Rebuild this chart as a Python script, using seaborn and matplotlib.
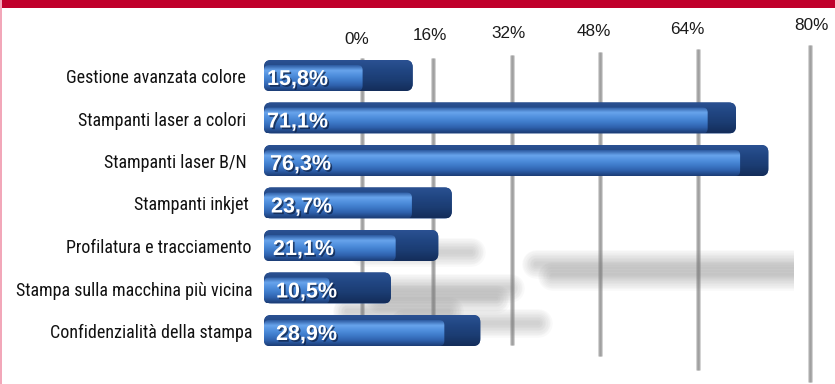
import numpy as np
import matplotlib
matplotlib.use("Agg")
import matplotlib.pyplot as plt
import matplotlib.patheffects as pe
from matplotlib import font_manager as fm
from matplotlib.patches import FancyBboxPatch, Rectangle
from matplotlib.colors import LinearSegmentedColormap
import seaborn as sns
import pandas as pd

# ---- data -------------------------------------------------------------
categories = [
    "Gestione avanzata colore",
    "Stampanti laser a colori",
    "Stampanti laser B/N",
    "Stampanti inkjet",
    "Profilatura e tracciamento",
    "Stampa sulla macchina più vicina",
    "Confidenzialità della stampa",
]
values = [15.8, 71.1, 76.3, 23.7, 21.1, 10.5, 28.9]
value_labels = ["15,8%", "71,1%", "76,3%", "23,7%", "21,1%", "10,5%", "28,9%"]
grid_ticks = [0, 16, 32, 48, 64, 80]
grid_tick_labels = ["0%", "16%", "32%", "48%", "64%", "80%"]

df = pd.DataFrame({"categoria": categories, "valore": values})

# ---- layout (pixels) --------------------------------------------------
W, H = 835, 384
BAR_X0, PX_PER_PCT, XMAX = 264, 6.24, 85
ROW0_Y, ROW_STEP = 78, 42.5

sns.set_theme(style="white")
plt.rcParams["font.family"] = ["Liberation Sans", "DejaVu Sans"]

fig = plt.figure(figsize=(W / 100, H / 100), dpi=100)
fig.patch.set_facecolor("white")
renderer = fig.canvas.get_renderer()


def pick_narrow_font():
    """Prefer a condensed sans for the category names."""
    for family, stretch in [("Liberation Sans Narrow", "normal"),
                            ("Roboto Condensed", "normal"),
                            ("DejaVu Sans", "condensed")]:
        try:
            path = fm.findfont(fm.FontProperties(family=family, stretch=stretch),
                               fallback_to_default=False)
        except ValueError:
            continue
        name = path.lower()
        if "narrow" in name or "condensed" in name:
            return family, stretch
    return "Liberation Sans", "normal"


def fit_size(text, family, stretch, target_px, base=13.5, weight="normal"):
    t = fig.text(0, 0, text, fontsize=base, family=family, stretch=stretch,
                 fontweight=weight)
    w = t.get_window_extent(renderer=renderer).width
    t.remove()
    return min(base, base * target_px / w)


NARROW, NARROW_STRETCH = pick_narrow_font()
NAME_SIZE = fit_size("Gestione avanzata colore", NARROW, NARROW_STRETCH, 179)

# header band and left frame line
fig.add_artist(Rectangle((0, 1 - 8 / H), 1, 8 / H, transform=fig.transFigure,
                         color="#c0002b", lw=0, zorder=10))
fig.add_artist(Rectangle((0, 0), 1.6 / W, 1, transform=fig.transFigure,
                         color="#f2a7b9", lw=0, zorder=10))

# ---- back wall grid with receding perspective -------------------------
k = 0.00308
gax = fig.add_axes([362 / W, 0, 448 / W, 1])
gax.set_xscale("function", functions=(lambda v: v / (1 - k * v),
                                      lambda u: u / (1 + k * u)))
gax.set_xlim(0, 80)
gax.set_ylim(H, 0)
gax.axis("off")
gax.set_zorder(0)

grid_top = [58, 58, 55, 52, 49, 45]
grid_bottom = [320, 335, 345, 356, 370, 382]
gax.vlines(grid_ticks, grid_top, grid_bottom, colors="#cdcdcd", lw=3.4,
           zorder=1, clip_on=False)
gax.vlines(grid_ticks, grid_top, grid_bottom, colors="#a0a0a0", lw=1.8,
           zorder=2, clip_on=False)

label_y = [39, 36, 33, 32, 29, 26]
label_dx = [-5, -3, -3, -6, -11, 1]
for t, lab, yy, dx in zip(grid_ticks, grid_tick_labels, label_y, label_dx):
    gax.annotate(lab, xy=(t, yy), xytext=(dx, 0), textcoords="offset pixels",
                 ha="center", va="center", fontsize=12.3, color="#1a1a1a",
                 annotation_clip=False)

# ---- bars ---------------------------------------------------------------
ax_left = BAR_X0
ax_right = BAR_X0 + PX_PER_PCT * XMAX
ax_top = ROW0_Y - 0.5 * ROW_STEP
ax_bottom = ROW0_Y + 6.5 * ROW_STEP
ax = fig.add_axes([ax_left / W, 1 - ax_bottom / H,
                   (ax_right - ax_left) / W, (ax_bottom - ax_top) / H])
ax.set_zorder(2)
ax.patch.set_alpha(0)

FRONT_H = 26 / ROW_STEP
sns.barplot(data=df, x="valore", y="categoria", orient="h", ax=ax,
            width=FRONT_H, color="#3f7bcb", saturation=1, edgecolor="none",
            zorder=4)
ax.set_xlim(0, XMAX)
ax.set_ylim(6.5, -0.5)
ax.axis("off")

dx_unit = 1 / PX_PER_PCT      # data units per pixel, horizontal
dy_unit = 1 / ROW_STEP        # data units per pixel, vertical
ASPECT = dy_unit / dx_unit

front_cmap = LinearSegmentedColormap.from_list(
    "front", ["#2c5aa0", "#68a4ec", "#4f8fdd", "#3d79c8", "#2e60ab", "#1c3d76"])
dark_cmap = LinearSegmentedColormap.from_list(
    "dark", ["#2b5192", "#214682", "#1b3c72", "#142d5a"])
grad = np.linspace(0, 1, 64).reshape(-1, 1)

text_shadow = [pe.SimplePatchShadow(offset=(1.2, -1.2), shadow_rgbFace="#0b1d3f",
                                    alpha=0.7), pe.Normal()]

for i, bar in enumerate(ax.patches):
    v = bar.get_width()
    y0 = bar.get_y()
    h = bar.get_height()
    end_px = BAR_X0 + v * PX_PER_PCT
    cap = (28 + 34 * np.exp(-(end_px - 328) / 80)) * dx_unit
    top_band = 5 * dy_unit

    # soft shadow cast on the floor behind the bars (stacked faint strokes)
    yc_px = ROW0_Y + ROW_STEP * (y0 + h / 2)
    ys = (230 + 0.28 * yc_px - ROW0_Y) / ROW_STEP
    xs0 = 0.5 * v + 50 * dx_unit
    xs1 = v + cap + 58 * dx_unit
    for j in range(9):
        ax.plot([xs0, xs1], [ys, ys], color="#808080", lw=3 + 2.2 * j,
                alpha=0.045, solid_capstyle="round", zorder=1)

    # top face + right end face, seen from above and to the right
    body = FancyBboxPatch((0, y0 - top_band), v + cap, h + top_band,
                          boxstyle=f"round,pad=0,rounding_size={7 * dx_unit}",
                          mutation_aspect=ASPECT,
                          facecolor="#1e4584", edgecolor="none", zorder=2)
    ax.add_patch(body)
    im = ax.imshow(grad, cmap=dark_cmap, aspect="auto", origin="upper",
                   extent=(0, v + cap, y0 + h, y0 - top_band), zorder=3,
                   interpolation="bilinear")
    im.set_clip_path(body)

    # front face with vertical shading
    bar.set_facecolor("none")
    front = FancyBboxPatch((0, y0), v, h,
                           boxstyle=f"round,pad=0,rounding_size={5 * dx_unit}",
                           mutation_aspect=ASPECT,
                           facecolor="none", edgecolor="none", zorder=4)
    ax.add_patch(front)
    im2 = ax.imshow(grad, cmap=front_cmap, aspect="auto", origin="upper",
                    extent=(0, v, y0 + h, y0), zorder=5,
                    interpolation="bilinear")
    im2.set_clip_path(front)

ax.set_xlim(0, XMAX)
ax.set_ylim(6.5, -0.5)

# value labels inside the bars and category names on the left
label_shift = [3, 3, 6, 7, 9, 12, 12]
name_shift = [0, 0, 1, 3, 5, 7, 7]
for i, (cat, lab) in enumerate(zip(categories, value_labels)):
    ax.annotate(lab, xy=(0, i), xytext=(label_shift[i], -1.5),
                textcoords="offset pixels", ha="left", va="center",
                fontsize=15.5, fontweight="bold", color="white",
                path_effects=text_shadow, zorder=8, annotation_clip=False)
    ax.annotate(cat, xy=(0, i), xytext=(-18 + name_shift[i], 0),
                textcoords="offset pixels", ha="right", va="center",
                fontsize=NAME_SIZE, family=NARROW, stretch=NARROW_STRETCH,
                color="#111111", annotation_clip=False)

fig.savefig("out.png", dpi=100)
